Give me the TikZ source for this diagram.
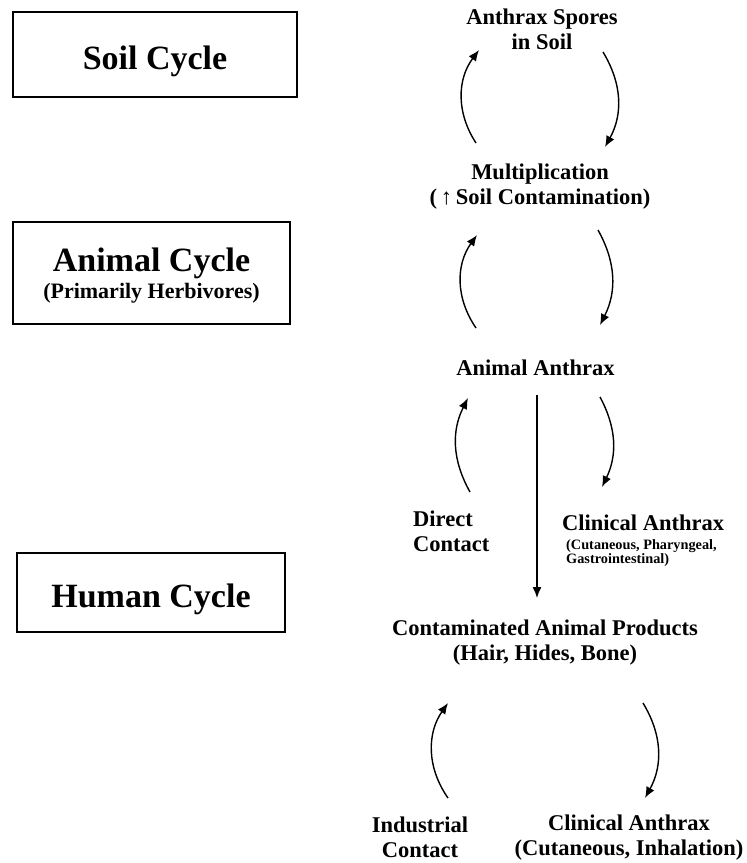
\documentclass[tikz,border=0pt]{standalone}
\usepackage{fontspec}
\setmainfont{Liberation Serif}
\usetikzlibrary{arrows.meta}

\newcommand{\titlefont}{\fontsize{34}{27}\selectfont\bfseries}
\newcommand{\labelfont}{\fontsize{22.5}{25}\selectfont\bfseries}
\newcommand{\subfont}{\fontsize{22}{25}\selectfont\bfseries}
\newcommand{\notefont}{\fontsize{14.3}{13.5}\selectfont\bfseries}

\tikzset{
  cyclebox/.style={draw, line width=2.5pt, inner sep=0pt, align=center, font=\titlefont},
  lbl/.style={inner sep=0pt, align=center, font=\labelfont},
  cyc/.style={line width=1.4pt, -{Latex[length=11pt,width=9pt]}},
  drop/.style={line width=1.7pt, -{Latex[length=11pt,width=9pt]}},
}

\begin{document}
\begin{tikzpicture}[x=1pt,y=1pt]

  \useasboundingbox (0,0) rectangle (747,-863);

  % cycle boxes on the left
  \node[cyclebox, minimum width=284, minimum height=85, text height=30pt, text depth=0pt]
       (soilbox) at (155,-54.5) {Soil Cycle};
  \node[cyclebox, minimum width=277, minimum height=102] (animalbox) at (151.5,-273)
       {\rule{0pt}{29pt}Animal Cycle\\{\subfont (Primarily Herbivores)}};
  \node[cyclebox, minimum width=268, minimum height=79, text height=30pt, text depth=0pt]
       (humanbox) at (151,-592.5) {Human Cycle};

  % stages on the right
  \node[lbl] (spores) at (542,-29.5) {Anthrax Spores\\in Soil};
  \node[lbl] (multi) at (540,-187) {Multiplication\\(\,↑\,Soil Contamination)};
  \node[lbl] (animal) at (535.5,-368) {Animal Anthrax};
  \node[lbl, align=left, anchor=west] (direct) at (413,-531) {Direct\\Contact};
  \node[lbl, align=left, anchor=west] (clinA) at (562,-523) {Clinical Anthrax};
  \node[lbl, align=left, anchor=west, font=\notefont] (clinAsub) at (566,-553)
       {(Cutaneous, Pharyngeal,\\Gastrointestinal)};
  \node[lbl] (products) at (545,-643) {Contaminated Animal Products\\(Hair, Hides, Bone)};
  \node[lbl] (industrial) at (420,-837.5) {Industrial\\Contact};
  \node[lbl] (clinH) at (629,-837.5) {Clinical Anthrax\\(Cutaneous, Inhalation)};

  % ends of the curved arrows
  \foreach \name/\x/\y in {sa/476/-143, sb/479/-50, sc/603/-52, sd/605/-147,
                           ma/476/-328, mb/477/-235, mc/598/-230, md/600/-325,
                           aa/470/-492, ab/468/-398, ac/600/-397, ad/602/-487,
                           pa/448/-798, pb/448/-703, pc/643/-703, pd/645/-798}
  {
       \coordinate (\name) at (\x,\y);
  }

  % soil cycle
  \draw[cyc] (sa) to[bend left=35] (sb);
  \draw[cyc] (sc) to[bend left=30] (sd);

  % animal cycle
  \draw[cyc] (ma) to[bend left=35] (mb);
  \draw[cyc] (mc) to[bend left=28] (md);

  \draw[cyc] (aa) to[bend left=28] (ab);
  \draw[cyc] (ac) to[bend left=27] (ad);

  % down to the animal products
  \draw[drop] ([xshift=1.5pt,yshift=-19pt]animal.south)
       -- ([xshift=1.5pt,yshift=22pt]animal.south |- products.north);

  % human cycle
  \draw[cyc] (pa) to[bend left=35] (pb);
  \draw[cyc] (pc) to[bend left=30] (pd);

\end{tikzpicture}
\end{document}
